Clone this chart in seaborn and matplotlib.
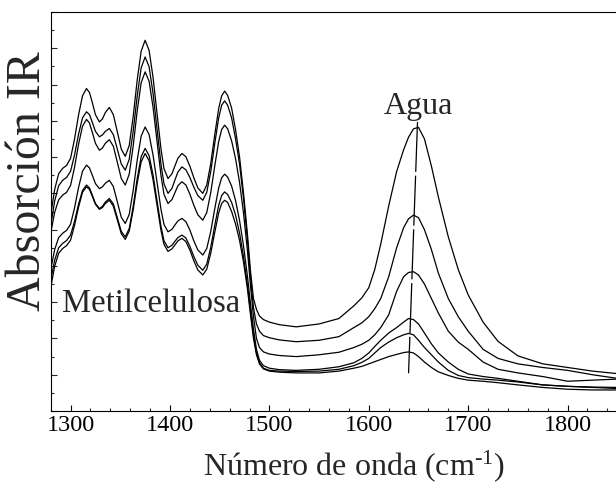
import numpy as np
import pandas as pd
import matplotlib
matplotlib.use("Agg")
import matplotlib.pyplot as plt
import seaborn as sns
from matplotlib.ticker import MultipleLocator

# shared wavenumber grid (cm-1), denser where the spectra bend
wavenumber = [1280, 1284, 1288, 1292, 1296, 1300, 1304, 1308, 1312, 1316,
              1319, 1322, 1325, 1329, 1332, 1335, 1339, 1343, 1347, 1351,
              1355, 1359, 1363, 1367, 1371, 1375, 1379, 1383, 1387, 1391,
              1394, 1398, 1402, 1405, 1408, 1412, 1416, 1420, 1424, 1428,
              1433, 1437, 1441, 1445, 1449, 1452, 1455, 1458, 1462, 1466,
              1470, 1474, 1478, 1481, 1484, 1487, 1490, 1494, 1500, 1510,
              1527, 1550, 1570, 1585, 1593, 1600, 1606, 1612, 1620, 1628,
              1635, 1640, 1645, 1650, 1656, 1663, 1670, 1680, 1690, 1700,
              1715, 1730, 1750, 1775, 1800, 1825, 1850]

spec1 = [5.4, 6.11, 6.54, 6.69, 6.77, 6.97, 7.5, 8.16, 8.69, 8.89,
         8.78, 8.49, 8.17, 7.97, 8.05, 8.23, 8.37, 8.17, 7.7, 7.22,
         7.02, 7.32, 8.12, 9.12, 9.92, 10.22, 9.94, 9.19, 8.2, 7.21,
         6.68, 6.41, 6.54, 6.76, 6.97, 7.1, 7.01, 6.75, 6.43, 6.15,
         6.0, 6.23, 6.82, 7.61, 8.34, 8.69, 8.82, 8.7, 8.35, 7.75,
         7.0, 6.0, 4.85, 3.85, 3.1, 2.8, 2.62, 2.52, 2.45, 2.38,
         2.32, 2.4, 2.55, 2.9, 3.12, 3.4, 3.9, 4.6, 5.65, 6.6,
         7.2, 7.55, 7.78, 7.82, 7.5, 6.75, 5.9, 4.8, 3.9, 3.2,
         2.45, 1.92, 1.52, 1.3, 1.2, 1.1, 1.03]

spec2 = [5.1, 5.79, 6.21, 6.36, 6.44, 6.61, 7.06, 7.63, 8.08, 8.25,
         8.17, 7.95, 7.71, 7.56, 7.61, 7.71, 7.79, 7.62, 7.22, 6.81,
         6.64, 6.94, 7.72, 8.68, 9.46, 9.76, 9.49, 8.75, 7.77, 6.79,
         6.26, 6.0, 6.14, 6.37, 6.59, 6.73, 6.65, 6.44, 6.17, 5.94,
         5.81, 6.03, 6.6, 7.37, 8.08, 8.43, 8.55, 8.43, 8.08, 7.5,
         6.8, 5.85, 4.7, 3.7, 2.85, 2.4, 2.2, 2.08, 2.02, 1.96,
         1.91, 1.95, 2.05, 2.3, 2.43, 2.6, 2.82, 3.1, 3.7, 4.5,
         5.05, 5.3, 5.4, 5.33, 5.0, 4.45, 3.8, 3.1, 2.6, 2.2,
         1.7, 1.45, 1.3, 1.2, 1.12, 1.0, 0.9]

spec3 = [4.9, 5.48, 5.82, 5.95, 6.03, 6.22, 6.72, 7.35, 7.85, 8.04,
         7.94, 7.67, 7.38, 7.19, 7.25, 7.38, 7.48, 7.3, 6.86, 6.41,
         6.23, 6.53, 7.31, 8.27, 9.05, 9.35, 9.09, 8.37, 7.43, 6.48,
         5.97, 5.72, 5.83, 6.02, 6.21, 6.32, 6.23, 5.98, 5.67, 5.41,
         5.26, 5.47, 6.02, 6.75, 7.43, 7.76, 7.88, 7.78, 7.45, 6.95,
         6.3, 5.45, 4.4, 3.45, 2.6, 2.0, 1.75, 1.63, 1.57, 1.53,
         1.5, 1.55, 1.62, 1.75, 1.84, 1.95, 2.1, 2.3, 2.65, 3.3,
         3.7, 3.82, 3.84, 3.75, 3.5, 3.1, 2.7, 2.2, 1.9, 1.7,
         1.35, 1.15, 1.05, 0.95, 0.82, 0.85, 0.88]

spec4 = [3.9, 4.45, 4.78, 4.9, 4.98, 5.15, 5.6, 6.16, 6.61, 6.78,
         6.7, 6.49, 6.27, 6.13, 6.18, 6.28, 6.36, 6.19, 5.77, 5.34,
         5.17, 5.42, 6.09, 6.91, 7.58, 7.83, 7.62, 7.05, 6.3, 5.55,
         5.14, 4.94, 5.01, 5.13, 5.24, 5.31, 5.22, 4.99, 4.69, 4.44,
         4.3, 4.48, 4.95, 5.57, 6.15, 6.43, 6.53, 6.45, 6.2, 5.8,
         5.25, 4.55, 3.7, 2.95, 2.25, 1.7, 1.4, 1.25, 1.18, 1.14,
         1.12, 1.15, 1.22, 1.33, 1.45, 1.6, 1.78, 1.95, 2.15, 2.3,
         2.45, 2.55, 2.52, 2.4, 2.15, 1.85, 1.6, 1.35, 1.15, 1.02,
         0.95, 0.9, 0.82, 0.72, 0.68, 0.65, 0.62]

spec5 = [3.6, 4.16, 4.5, 4.62, 4.7, 4.85, 5.23, 5.7, 6.08, 6.23,
         6.15, 5.94, 5.72, 5.58, 5.64, 5.76, 5.86, 5.71, 5.33, 4.95,
         4.8, 5.03, 5.64, 6.4, 7.01, 7.24, 7.04, 6.5, 5.79, 5.08,
         4.69, 4.5, 4.57, 4.68, 4.78, 4.85, 4.77, 4.54, 4.26, 4.02,
         3.88, 4.05, 4.51, 5.11, 5.67, 5.94, 6.04, 5.97, 5.75, 5.4,
         4.9, 4.25, 3.45, 2.75, 2.1, 1.6, 1.33, 1.18, 1.12, 1.1,
         1.09, 1.1, 1.15, 1.25, 1.34, 1.45, 1.6, 1.75, 1.9, 2.02,
         2.1, 2.14, 2.1, 1.95, 1.75, 1.55, 1.35, 1.12, 0.98, 0.92,
         0.88, 0.85, 0.8, 0.72, 0.68, 0.66, 0.65]

spec6 = [3.4, 3.99, 4.35, 4.48, 4.56, 4.71, 5.12, 5.62, 6.03, 6.18,
         6.11, 5.91, 5.7, 5.56, 5.61, 5.72, 5.81, 5.65, 5.27, 4.89,
         4.73, 4.96, 5.55, 6.28, 6.87, 7.1, 6.9, 6.37, 5.67, 4.97,
         4.59, 4.4, 4.47, 4.58, 4.69, 4.76, 4.67, 4.44, 4.14, 3.89,
         3.75, 3.91, 4.35, 4.92, 5.46, 5.72, 5.81, 5.75, 5.5, 5.15,
         4.7, 4.1, 3.35, 2.65, 2.0, 1.55, 1.3, 1.16, 1.1, 1.07,
         1.05, 1.05, 1.1, 1.18, 1.23, 1.3, 1.36, 1.42, 1.5, 1.56,
         1.61, 1.63, 1.6, 1.5, 1.35, 1.2, 1.08, 0.98, 0.9, 0.85,
         0.82, 0.78, 0.72, 0.65, 0.6, 0.58, 0.58]

# dashed marker through the water band maxima
agua_x = [1649, 1640]
agua_y = [7.97, 1.04]

spectra = [spec1, spec2, spec3, spec4, spec5, spec6]
df = pd.concat(
    [pd.DataFrame({"wn": wavenumber, "abs": s, "muestra": i}) for i, s in enumerate(spectra)],
    ignore_index=True)

sns.set_theme(style="ticks")
plt.rcParams['font.family'] = ['Liberation Serif', 'DejaVu Serif']
plt.rcParams['mathtext.fontset'] = 'custom'
plt.rcParams['mathtext.rm'] = 'Liberation Serif'
plt.rcParams['mathtext.it'] = 'Liberation Serif:italic'

fig = plt.figure(figsize=(6.16, 4.87), dpi=100)
ax = fig.add_axes([50.7 / 616, 76 / 487, 566.6 / 616, 399 / 487])

sns.lineplot(data=df, x="wn", y="abs", units="muestra", estimator=None, sort=False,
             color="black", lw=0.9, ax=ax, legend=False)
ax.plot(agua_x, agua_y, color="black", lw=0.9, dashes=(40, 3))

ax.set_xlim(1280, 1850)
ax.set_ylim(0, 11)
ax.xaxis.set_major_locator(MultipleLocator(100))
ax.xaxis.set_minor_locator(MultipleLocator(20))
ax.yaxis.set_major_locator(MultipleLocator(1))
ax.yaxis.set_minor_locator(MultipleLocator(0.5))
ax.set_yticklabels([])
ax.tick_params(axis='x', which='major', direction='in', length=4.2, width=0.8,
               labelsize=17.5, pad=3, colors='black')
ax.tick_params(axis='x', which='minor', direction='in', length=2.4, width=0.8)
ax.tick_params(axis='y', which='major', direction='in', length=4, width=0.8)
ax.tick_params(axis='y', which='minor', direction='in', length=2.2, width=0.8)
ax.spines['right'].set_visible(False)
for sp in ['left', 'top', 'bottom']:
    ax.spines[sp].set_color('black')
    ax.spines[sp].set_linewidth(0.8)

ax.set_xlabel(r'Número de onda (cm$^{\text{-1}}$)', fontsize=23)
ax.xaxis.set_label_coords((353.5 - 50.7) / 566.6, (411 - 466) / 399)
ax.xaxis.label.set_verticalalignment('center')
ax.set_ylabel('Absorción IR', fontsize=34.5)
ax.yaxis.set_label_coords((27.5 - 50.7) / 566.6, (411 - 181) / 399)
ax.yaxis.label.set_verticalalignment('center')

ax.text(1291, 2.74, 'Metilcelulosa', fontsize=23.5, ha='left', va='baseline')
ax.text(1650, 8.2, 'Agua', fontsize=23, ha='center', va='baseline')

fig.savefig("out.png", dpi=100)
